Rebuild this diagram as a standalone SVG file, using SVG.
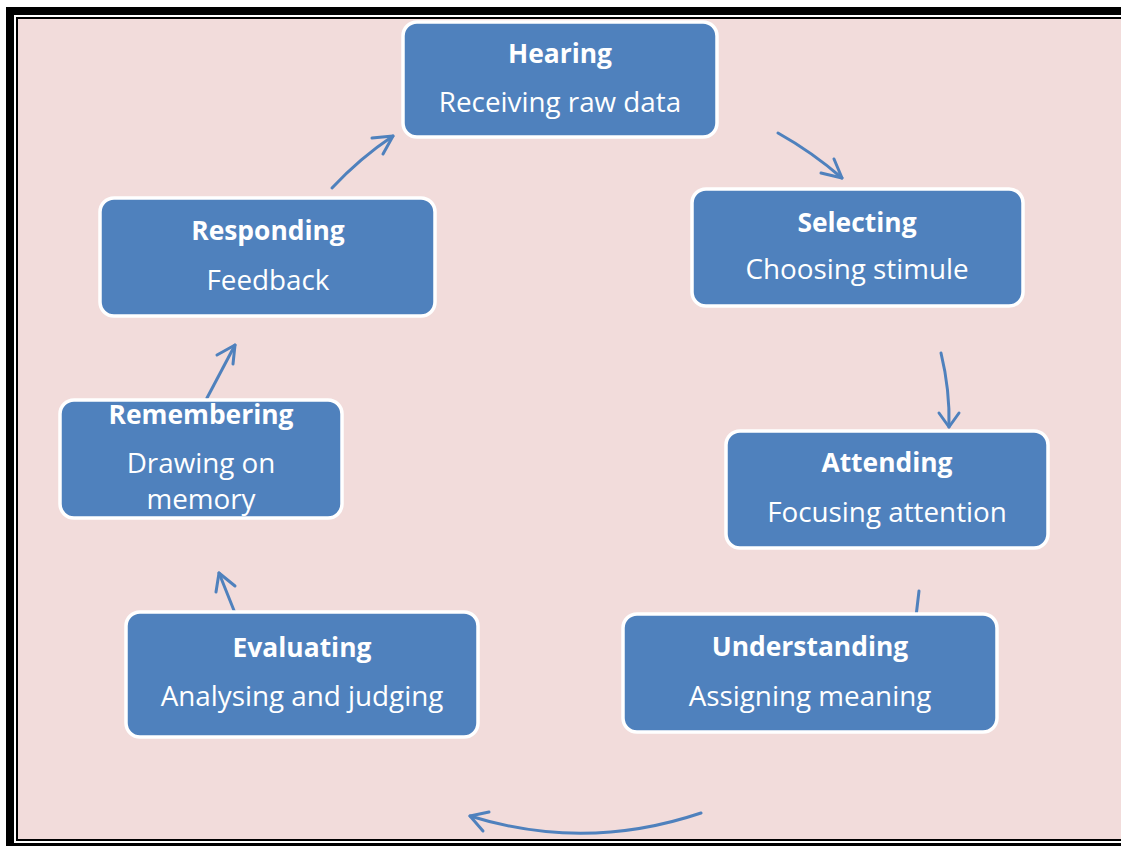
<svg xmlns="http://www.w3.org/2000/svg" width="1121" height="846" viewBox="0 0 1121 846">
<style>
.box{fill:#4F81BD;stroke:#FFFFFF;stroke-width:3.5}
.t{font-family:"Open Sans","Noto Sans",sans-serif;fill:#FFFFFF;text-anchor:middle;font-size:27.8px}
.b{font-weight:bold;font-size:26.4px}
.c{fill:none;stroke:#4F81BD;stroke-width:3;stroke-linecap:round;stroke-linejoin:round}
</style>
<rect x="0" y="0" width="1121" height="846" fill="#FFFFFF"/>
<rect x="6" y="7" width="1200" height="1000" fill="#000000"/>
<rect x="14" y="15" width="1200" height="828" fill="#FFFFFF"/>
<rect x="16" y="17" width="1200" height="824" fill="#000000"/>
<rect x="18" y="19" width="1200" height="820" fill="#F2DCDB"/>
<g id="connectors">
<path class="c" d="M778,133 Q812,152 842,178"/>
<path class="c" d="M821,173 L842,178 L834,159"/>
<path class="c" d="M941,353 Q950,390 949,427"/>
<path class="c" d="M939,413 L949,427 L959,413"/>
<path class="c" d="M919,591 L915,625"/>
<path class="c" d="M701,813 Q585,852 470,816"/>
<path class="c" d="M489,812 L470,816 L483,831"/>
<path class="c" d="M235,613 L219,573"/>
<path class="c" d="M216,592 L219,573 L235,586"/>
<path class="c" d="M207,398 L235,345"/>
<path class="c" d="M217,355 L235,345 L233,364"/>
<path class="c" d="M332,188 Q360,158 393,136"/>
<path class="c" d="M372,138 L393,136 L383,154"/>
</g>
<g id="hearing">
<rect class="box" x="403" y="22" width="314" height="115" rx="14"/>
<text class="t b" x="560" y="63">Hearing</text>
<text class="t" x="560" y="112">Receiving raw data</text>
</g>
<g id="selecting">
<rect class="box" x="692" y="189" width="331" height="117" rx="14"/>
<text class="t b" x="857" y="232">Selecting</text>
<text class="t" x="857" y="279">Choosing stimule</text>
</g>
<g id="attending">
<rect class="box" x="726" y="431" width="322" height="117" rx="14"/>
<text class="t b" x="887" y="472">Attending</text>
<text class="t" x="887" y="522">Focusing attention</text>
</g>
<g id="understanding">
<rect class="box" x="623" y="614" width="374" height="118" rx="14"/>
<text class="t b" x="810" y="656">Understanding</text>
<text class="t" x="810" y="706">Assigning meaning</text>
</g>
<g id="evaluating">
<rect class="box" x="126" y="612" width="352" height="125" rx="14"/>
<text class="t b" x="302" y="657">Evaluating</text>
<text class="t" x="302" y="706">Analysing and judging</text>
</g>
<g id="remembering">
<rect class="box" x="60" y="400" width="282" height="118" rx="14"/>
<text class="t b" x="201" y="424">Remembering</text>
<text class="t" x="201" y="473">Drawing on</text>
<text class="t" x="201" y="509">memory</text>
</g>
<g id="responding">
<rect class="box" x="100" y="198" width="335" height="118" rx="14"/>
<text class="t b" x="268" y="240">Responding</text>
<text class="t" x="268" y="290">Feedback</text>
</g>
</svg>
